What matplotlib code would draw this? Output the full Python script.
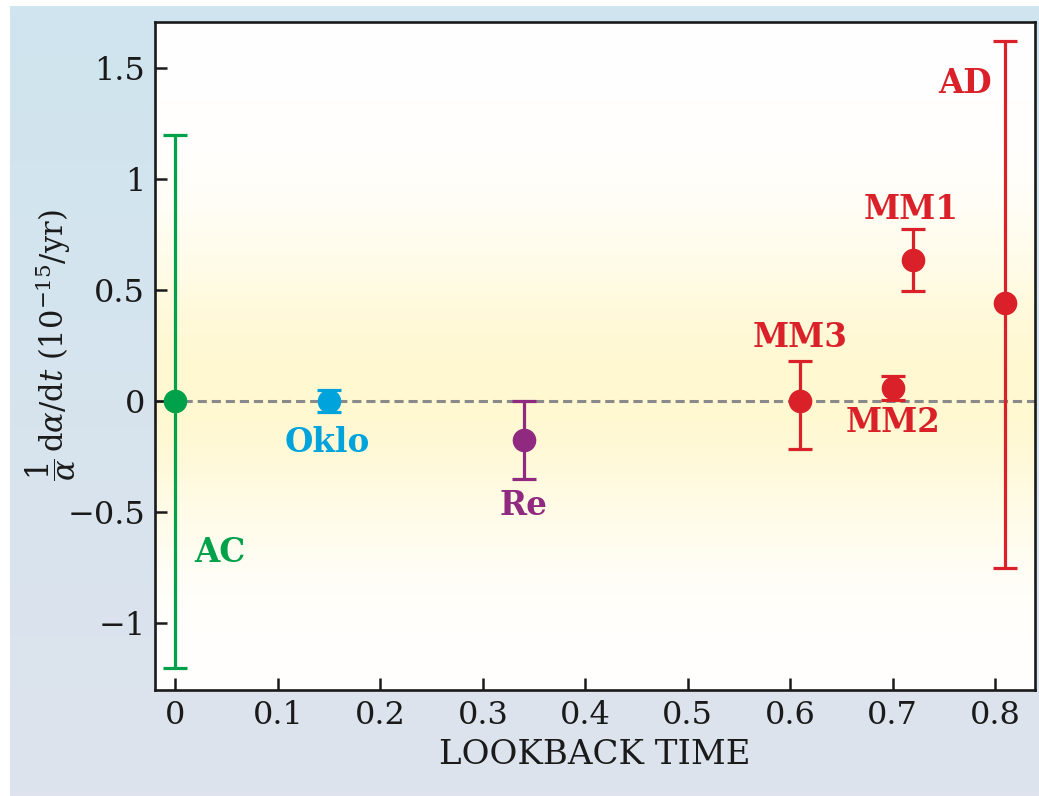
import numpy as np
import matplotlib
matplotlib.use('Agg')
import matplotlib.pyplot as plt
from matplotlib.colors import to_rgb

plt.rcParams['font.family'] = ['DejaVu Serif']
plt.rcParams['mathtext.fontset'] = 'dejavuserif'

# measurements: lookback time, rate, lower / upper error
names = ['AC', 'Oklo', 'Re', 'MM3', 'MM2', 'MM1', 'AD']
lookback = [0.0, 0.15, 0.34, 0.61, 0.70, 0.72, 0.81]
rate = [0.0, 0.0, -0.175, 0.0, 0.06, 0.635, 0.44]
err_lo = [1.2, 0.05, 0.175, 0.215, 0.055, 0.14, 1.19]
err_hi = [1.2, 0.05, 0.175, 0.18, 0.055, 0.14, 1.18]
colors = ['#00a14b', '#00a3dc', '#8f2a80', '#da2129', '#da2129', '#da2129', '#da2129']

# label anchor points (data coords)
label_xy = [(0.043, -0.68), (0.148, -0.185), (0.34, -0.47), (0.61, 0.285),
            (0.70, -0.095), (0.718, 0.865), (0.771, 1.43)]

x_ticks = [0, 0.1, 0.2, 0.3, 0.4, 0.5, 0.6, 0.7, 0.8]
y_ticks = [-1, -0.5, 0, 0.5, 1, 1.5]
y_tick_labels = ['\u22121', '\u22120.5', '0', '0.5', '1', '1.5']

W, H = 1039, 796
fig = plt.figure(figsize=(W / 100, H / 100), dpi=100)
fig.patch.set_facecolor('white')

# outer gradient panel
bg = fig.add_axes([10 / W, 0, 1 - 10 / W, 1 - 6 / H], zorder=0)
top_c = np.array(to_rgb('#cfe5ef'))
bot_c = np.array(to_rgb('#dee3ed'))
t = np.linspace(0, 1, 256)[:, None]
grad = top_c * (1 - t) + bot_c * t
bg.imshow(grad[:, None, :].repeat(2, axis=1), aspect='auto', extent=[0, 1, 0, 1])
bg.set_axis_off()

ax = fig.add_axes([155 / W, 1 - 690 / H, 880 / W, 668 / H], zorder=1)
ax.set_xlim(-0.02, 0.839)
ax.set_ylim(-1.30, 1.707)

# yellow band around zero
yy = np.linspace(1.707, -1.30, 400)
w = np.exp(-0.5 * ((yy - 0.05) / 0.47) ** 2)
yel = np.array(to_rgb('#fff8d0'))
band = np.ones((400, 3)) * (1 - w[:, None]) + yel * w[:, None]
ax.imshow(band[:, None, :].repeat(2, axis=1), aspect='auto',
          extent=[-0.02, 0.839, -1.30, 1.707], zorder=0)

ax.axhline(0, color='#8a8a8a', lw=2.2, ls=(0, (3, 1.6)), zorder=1)

for i in range(len(names)):
    ax.errorbar(lookback[i], rate[i], yerr=[[err_lo[i]], [err_hi[i]]],
                fmt='o', color=colors[i], ms=16, lw=2.3, capsize=8.5,
                capthick=2.3, zorder=3)
    ax.text(label_xy[i][0], label_xy[i][1], names[i], color=colors[i],
            fontsize=23.5, fontweight='bold', ha='center', va='center', zorder=4)

ax.set_xticks(x_ticks)
ax.set_xticklabels(['0' if v == 0 else f'{v:.1f}' for v in x_ticks])
ax.set_yticks(y_ticks)
ax.set_yticklabels(y_tick_labels)
ax.tick_params(direction='in', length=8.5, width=1.8, labelsize=23, pad=7,
               colors='#1a1a1a', top=False, right=False)
for s in ax.spines.values():
    s.set_linewidth(1.9)
    s.set_color('#1a1a1a')

ax.set_xlabel('LOOKBACK TIME', fontsize=24.5, labelpad=6, color='#1a1a1a')
ax.set_ylabel(r'$\dfrac{1}{\alpha}\,\mathrm{d}\alpha/\mathrm{d}t\ (10^{-15}/\mathrm{yr})$',
              fontsize=22, color='#1a1a1a')
ax.yaxis.set_label_coords(-0.087, 0.516)

fig.savefig('out.png', dpi=100)
